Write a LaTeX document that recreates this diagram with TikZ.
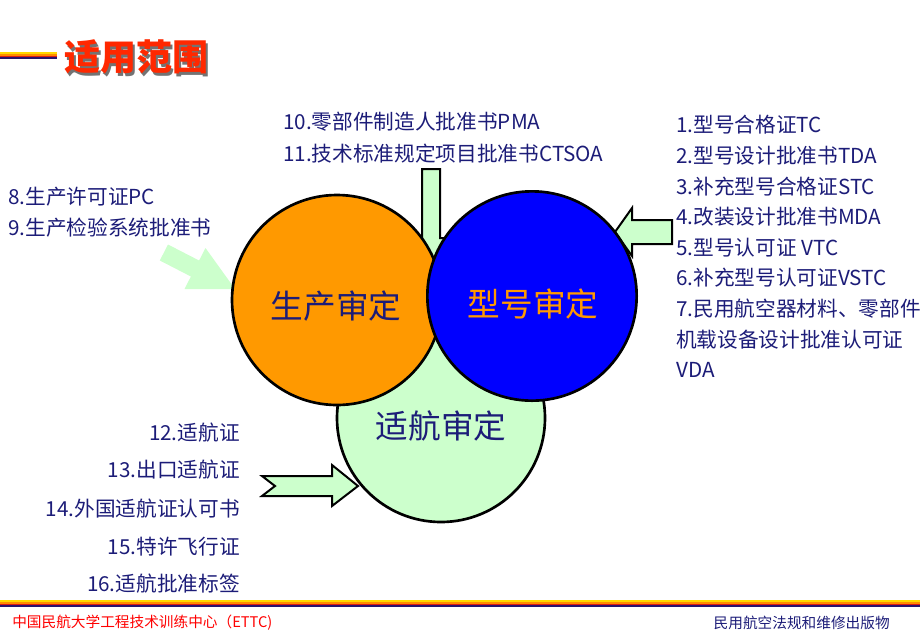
\documentclass[tikz,border=0pt]{standalone}
\usepackage{fontspec}
\setmainfont{Noto Sans CJK SC}

\definecolor{navytext}{RGB}{28,28,120}
\definecolor{prodorange}{RGB}{255,153,0}
\definecolor{typeblue}{RGB}{0,0,255}
\definecolor{mint}{RGB}{204,255,204}
\definecolor{titlered}{RGB}{255,40,0}
\definecolor{stripeyellow}{RGB}{255,215,0}
\definecolor{stripeorange}{RGB}{255,140,0}
\definecolor{stripered}{RGB}{220,30,20}
\definecolor{stripenavy}{RGB}{40,20,110}

\tikzset{
  listtext/.style={font=\fontsize{15.5}{18}\selectfont, text=navytext, inner sep=0pt},
  bigcircle/.style={circle, draw=black, line width=2pt, inner sep=0pt, outer sep=0pt},
  circlelabel/.style={font=\fontsize{24.5}{28}\selectfont, inner sep=0pt},
  blockarrow/.style={fill=mint, draw=black, line width=1.5pt, line join=miter}
}

\begin{document}
\begin{tikzpicture}[x=0.75pt, y=-0.75pt]
  \useasboundingbox (0,0) rectangle (920,637);
  \clip (0,0) rectangle (920,637);

  % === Titolo ===
  \fill[stripeyellow] (0,52) rectangle (57,54);
  \fill[stripeorange] (0,54) rectangle (57,55.5);
  \fill[stripered] (0,55.5) rectangle (57,57);
  \fill[stripenavy] (0,57) rectangle (57,59);
  \node[font=\fontsize{27}{30}\selectfont\bfseries, text=black!55] (titleshadow) at (138.5,59.5) {适用范围};
  \node[font=\fontsize{27}{30}\selectfont\bfseries, text=titlered] (title) at (136,57) {适用范围};

  % === Frecce a blocco (sotto i cerchi) ===
  % dall'alto (10, 11)
  \draw[blockarrow] (422,169) -- (440,169) -- (440,238) -- (448,238) -- (431,265)
    -- (413,238) -- (422,238) -- cycle;
  % da destra (1 - 7)
  \draw[blockarrow] (672,220) -- (632,220) -- (632,208) -- (615,232) -- (632,256)
    -- (632,244) -- (672,244) -- cycle;
  % dal basso a sinistra (12 - 16), coda dentellata
  \draw[blockarrow] (262,476) -- (332,476) -- (332,465) -- (358,486) -- (332,506)
    -- (332,496) -- (262,496) -- (275,486) -- cycle;
  % da sinistra (8, 9), senza bordo
  \fill[mint] (168,244.5) -- (199.1,260.5) -- (205.5,248) -- (235,289) -- (184.5,289)
    -- (190.9,276.5) -- (159.8,260.5) -- cycle;

  % === Cerchi ===
  \node[bigcircle, fill=mint, minimum size=156pt] (airworthy) at (441,418) {};
  \node[bigcircle, fill=prodorange, minimum size=157.5pt] (production) at (337,300) {};
  \node[bigcircle, fill=typeblue, minimum size=157pt] (typecert) at (532,296) {};

  \node[circlelabel, text=navytext] (productionlbl) at (336,306) {生产审定};
  \node[circlelabel, text=prodorange] (typecertlbl) at (533,304) {型号审定};
  \node[circlelabel, text=navytext] (airworthylbl) at (441,426) {适航审定};

  % === Elenchi ===
  \node[listtext, anchor=west] (pma) at (283,122) {10.零部件制造人批准书PMA};
  \node[listtext, anchor=west] (ctsoa) at (283,154) {11.技术标准规定项目批准书CTSOA};

  \node[listtext, anchor=west] (pc) at (8,197) {8.生产许可证PC};
  \node[listtext, anchor=west] (pcsys) at (8,228) {9.生产检验系统批准书};

  \foreach \txt [count=\i] in {1.型号合格证TC, 2.型号设计批准书TDA, 3.补充型号合格证STC,
      4.改装设计批准书MDA, 5.型号认可证 VTC, 6.补充型号认可证VSTC,
      7.民用航空器材料、零部件, 机载设备设计批准认可证, VDA}
    \node[listtext, anchor=west] (cert\i) at (676,{125+30.6*(\i-1)}) {\txt};

  \foreach \y/\txt [count=\i] in {433/12.适航证, 470/13.出口适航证, 509/14.外国适航证认可书,
      547/15.特许飞行证, 584/16.适航批准标签}
    \node[listtext, anchor=east] (awd\i) at (240,\y) {\txt};

  % === Piè di pagina ===
  \fill[stripeyellow] (0,600) rectangle (920,602);
  \fill[stripeorange] (0,602) rectangle (920,603.5);
  \fill[stripered] (0,603.5) rectangle (920,605);
  \fill[stripenavy] (0,605) rectangle (920,607);
  \node[anchor=west, inner sep=0pt, font=\fontsize{11}{13}\selectfont, text=red] (school) at (12,623) {中国民航大学工程技术训练中心（ETTC)};
  \node[anchor=east, inner sep=0pt, font=\fontsize{11}{13}\selectfont, text=navytext] (series) at (890,623) {民用航空法规和维修出版物};
\end{tikzpicture}
\end{document}
